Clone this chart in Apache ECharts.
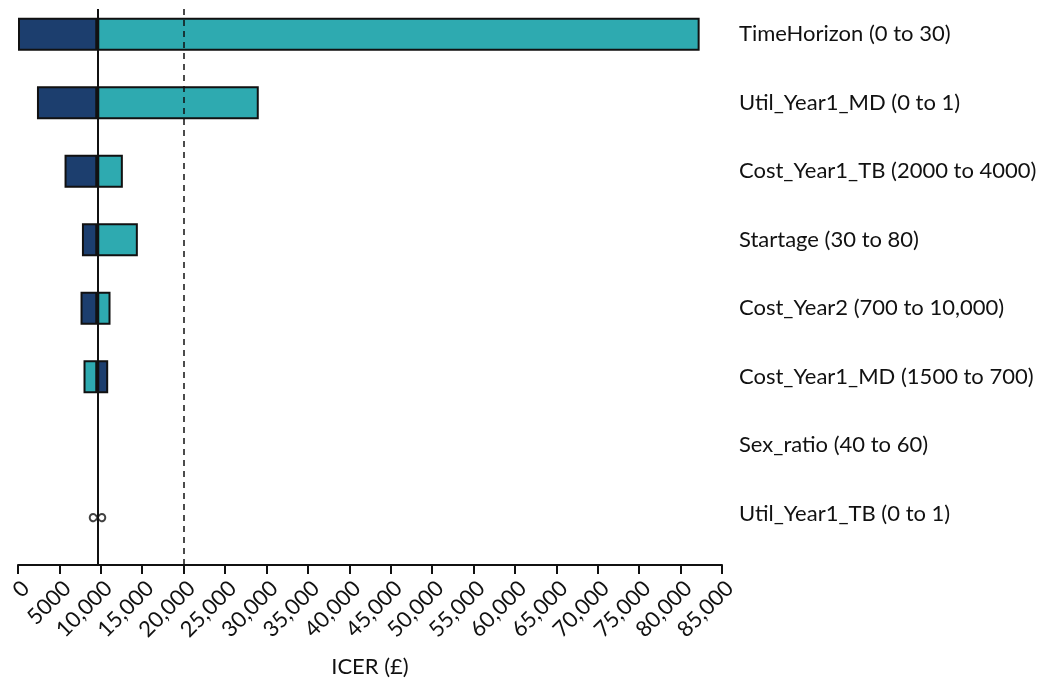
<!DOCTYPE html>
<html>
<head>
<meta charset="utf-8">
<script src="https://cdn.jsdelivr.net/npm/echarts@6/dist/echarts.min.js"></script>
<style>html,body{margin:0;padding:0;background:#fff;}#c{width:1048px;height:684px;}</style>
</head>
<body>
<div id="c"></div>
<script>
// ---- data ----
const categories = [
  'TimeHorizon (0 to 30)',
  'Util_Year1_MD (0 to 1)',
  'Cost_Year1_TB (2000 to 4000)',
  'Startage (30 to 80)',
  'Cost_Year2 (700 to 10,000)',
  'Cost_Year1_MD (1500 to 700)',
  'Sex_ratio (40 to 60)',
  'Util_Year1_TB (0 to 1)'
];
const baselineICER = 9570;
const thresholdICER = 20000;
// ICER at the low input value (dark) and at the high input value (teal)
const lowInputICER  = [0,     2290,  5620,  7720,  7550,  10890, 9570, 9570];
const highInputICER = [82300, 29070, 12660, 14470, 11170, 7910,  9570, 9570];
const markers = ['', '', '', '', '', '', '', '\u221E'];

const DARK = '#1c3e6e';
const TEAL = '#2eaab0';

// ---- build stacked segments ----
const baseData = [], leftSeg = [], rightSeg = [];
categories.forEach((c, i) => {
  const lo = lowInputICER[i], hi = highInputICER[i];
  const left = Math.min(lo, hi, baselineICER);
  const right = Math.max(lo, hi, baselineICER);
  const leftColor = lo <= hi ? DARK : TEAL;
  const rightColor = lo <= hi ? TEAL : DARK;
  baseData.push(left);
  leftSeg.push(baselineICER - left > 0 ? {value: baselineICER - left, itemStyle: {color: leftColor}} : null);
  rightSeg.push(right - baselineICER > 0 ? {value: right - baselineICER, itemStyle: {color: rightColor}} : null);
});

const font = 'Lato, "Noto Sans", sans-serif';
const chart = echarts.init(document.getElementById('c'), null, {renderer: 'canvas'});
chart.setOption({
  animation: false,
  backgroundColor: '#fff',
  grid: [
    {left: 18, right: 326, top: 0, height: 548},
    {left: 18, right: 326, top: 9, bottom: 119}
  ],
  xAxis: [
    {
      gridIndex: 0, type: 'value', min: 0, max: 85000, interval: 5000, offset: 17, position: 'bottom',
      name: 'ICER (£)', nameLocation: 'middle', nameGap: 91,
      nameTextStyle: {fontFamily: font, fontSize: 22, color: '#111'},
      axisLine: {show: true, lineStyle: {color: '#111', width: 2}},
      axisTick: {show: true, inside: false, length: 9, lineStyle: {color: '#111', width: 2}},
      splitLine: {show: false},
      axisLabel: {
        rotate: 45, margin: 12, verticalAlign: 'top', fontFamily: font, fontSize: 22, color: '#111',
        formatter: v => (v < 10000 ? String(v) : v.toLocaleString('en-US'))
      }
    },
    {gridIndex: 1, type: 'value', min: 0, max: 85000, show: false}
  ],
  yAxis: [
    {
      gridIndex: 0, type: 'category', inverse: true, position: 'right', data: categories,
      axisLine: {show: false}, axisTick: {show: false}, splitLine: {show: false},
      axisLabel: {margin: 17, fontFamily: font, fontSize: 22, color: '#111'}
    },
    {gridIndex: 1, type: 'value', min: 0, max: 1, show: false}
  ],
  series: [
    {
      type: 'bar', xAxisIndex: 0, yAxisIndex: 0, stack: 't', barWidth: 33,
      data: baseData, itemStyle: {color: 'transparent'}, silent: true
    },
    {
      type: 'bar', xAxisIndex: 0, yAxisIndex: 0, stack: 't', barWidth: 33,
      data: leftSeg, itemStyle: {borderColor: '#111', borderWidth: 2}
    },
    {
      type: 'bar', xAxisIndex: 0, yAxisIndex: 0, stack: 't', barWidth: 33,
      data: rightSeg, itemStyle: {borderColor: '#111', borderWidth: 2}
    },
    {
      type: 'scatter', xAxisIndex: 0, yAxisIndex: 0, symbolSize: 0,
      data: categories.map((c, i) => markers[i] ? {value: [baselineICER, c], label: {formatter: markers[i]}} : null).filter(Boolean),
      label: {show: true, position: 'inside', offset: [0, 3], fontFamily: font, fontSize: 28, color: '#111'},
      z: 10
    },
    {
      type: 'line', xAxisIndex: 1, yAxisIndex: 1, data: [], z: 5,
      markLine: {
        silent: true, symbol: 'none', label: {show: false},
        data: [
          {xAxis: baselineICER, lineStyle: {color: '#111', width: 2, type: 'solid'}},
          {xAxis: thresholdICER, lineStyle: {color: '#111', width: 1.5, type: [6, 5]}}
        ]
      }
    }
  ]
});
</script>
</body>
</html>
